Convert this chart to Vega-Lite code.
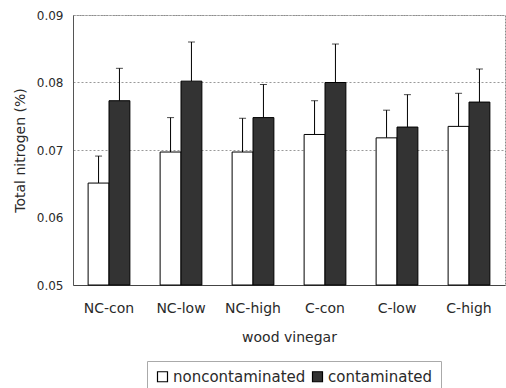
{
  "$schema": "https://vega.github.io/schema/vega-lite/v6.json",
  "width": 432,
  "height": 270,
  "autosize": {"type": "none"},
  "padding": {"left": 73, "top": 15, "right": 1, "bottom": 103},
  "background": "white",
  "config": {
    "font": "DejaVu Sans",
    "view": {"stroke": "#8a8a8a", "strokeDash": [2, 1], "strokeWidth": 1},
    "axis": {"labelFont": "DejaVu Sans", "titleFont": "DejaVu Sans", "labelColor": "#2a2a2a", "titleColor": "#2a2a2a", "titleFontWeight": "normal"}
  },
  "data": {
    "values": [
      {"group": "NC-con", "type": "noncontaminated", "mean": 0.0651, "upper": 0.0691},
      {"group": "NC-con", "type": "contaminated", "mean": 0.0773, "upper": 0.0821},
      {"group": "NC-low", "type": "noncontaminated", "mean": 0.0697, "upper": 0.0748},
      {"group": "NC-low", "type": "contaminated", "mean": 0.0802, "upper": 0.0860},
      {"group": "NC-high", "type": "noncontaminated", "mean": 0.0697, "upper": 0.0747},
      {"group": "NC-high", "type": "contaminated", "mean": 0.0748, "upper": 0.0797},
      {"group": "C-con", "type": "noncontaminated", "mean": 0.0723, "upper": 0.0773},
      {"group": "C-con", "type": "contaminated", "mean": 0.0800, "upper": 0.0857},
      {"group": "C-low", "type": "noncontaminated", "mean": 0.0718, "upper": 0.0759},
      {"group": "C-low", "type": "contaminated", "mean": 0.0734, "upper": 0.0782},
      {"group": "C-high", "type": "noncontaminated", "mean": 0.0735, "upper": 0.0784},
      {"group": "C-high", "type": "contaminated", "mean": 0.0771, "upper": 0.0820}
    ]
  },
  "encoding": {
    "x": {
      "field": "group", "type": "nominal", "sort": null,
      "scale": {"paddingInner": 0.42, "paddingOuter": 0.21},
      "axis": {"title": "wood vinegar", "labelAngle": 0, "ticks": false, "labelFontSize": 14, "labelPadding": 16, "titleFontSize": 14, "titlePadding": 15, "domainColor": "#444", "grid": false}
    },
    "xOffset": {"field": "type", "type": "nominal", "sort": ["noncontaminated", "contaminated"], "scale": {"paddingInner": 0, "paddingOuter": 0}}
  },
  "layer": [
    {
      "mark": {"type": "rule", "color": "black", "strokeWidth": 1},
      "encoding": {
        "y": {"field": "mean", "type": "quantitative"},
        "y2": {"field": "upper"}
      }
    },
    {
      "mark": {"type": "tick", "color": "black", "size": 7, "thickness": 1, "orient": "horizontal"},
      "encoding": {
        "y": {"field": "upper", "type": "quantitative"}
      }
    },
    {
      "mark": {"type": "bar", "stroke": "black", "strokeWidth": 1},
      "encoding": {
        "y": {
          "field": "mean", "type": "quantitative",
          "scale": {"domain": [0.05, 0.09], "zero": false, "nice": false},
          "axis": {
            "title": "Total nitrogen (%)", "values": [0.05, 0.06, 0.07, 0.08, 0.09], "format": ".2f",
            "ticks": false, "labelFontSize": 12, "labelPadding": 10, "titleFontSize": 14, "titlePadding": 9,
            "domainColor": "#555", "gridColor": "#999", "gridDash": [2, 2],
            "gridOpacity": {"condition": {"test": "datum.value < 0.065", "value": 0}, "value": 1}
          }
        },
        "y2": {"datum": 0.05},
        "fill": {
          "field": "type", "type": "nominal",
          "scale": {"domain": ["noncontaminated", "contaminated"], "range": ["white", "#333333"]},
          "legend": {
            "title": null, "orient": "none", "direction": "horizontal", "legendX": 74, "legendY": 346,
            "symbolType": "square", "symbolSize": 100, "symbolStrokeColor": "black", "symbolStrokeWidth": 1.2,
            "labelFontSize": 15, "labelColor": "#2a2a2a", "labelOffset": 3, "columnPadding": 4,
            "strokeColor": "#aaa", "padding": 8
          }
        }
      }
    }
  ]
}
